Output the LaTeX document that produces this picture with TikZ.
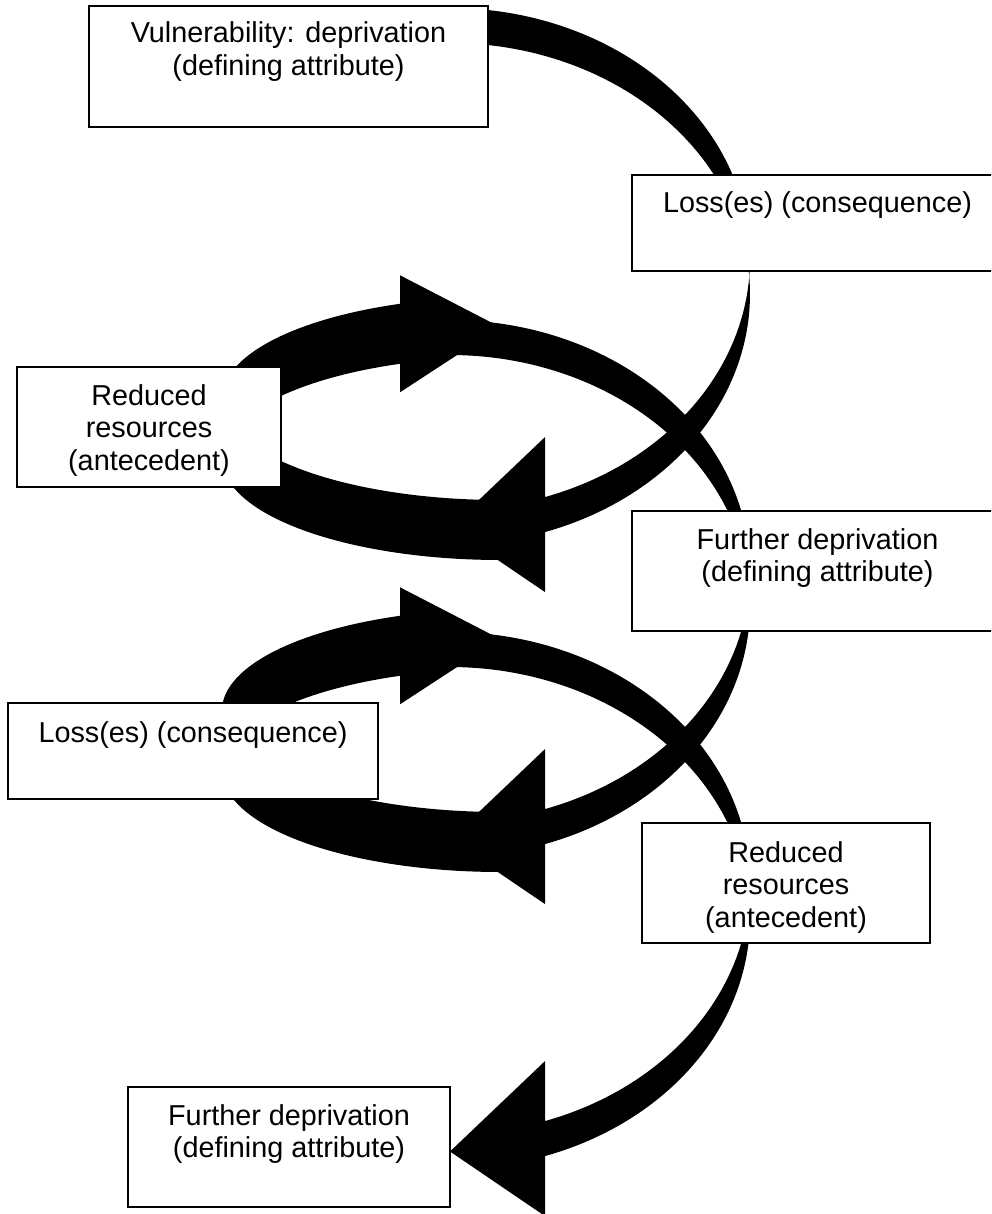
\documentclass[tikz,border=0pt]{standalone}
\usepackage{fontspec}
\setmainfont{Liberation Sans}
% curved arrow, body on the right, head at the bottom pointing left
% args: left x, top y, width, half-height of ellipse, band thickness, head width, head length
\newcommand{\cvLeftArrow}[7]{%
  \pgfmathsetmacro{\cvcU}{#2+#4}%
  \pgfmathsetmacro{\cvcL}{#2+#4+#5}%
  \pgfmathsetmacro{\cvtp}{asin(#5/(2*#4))}%
  \pgfmathsetmacro{\cvmtp}{-\cvtp}%
  \pgfmathsetmacro{\cvta}{acos(#7/#3)}%
  \pgfmathsetmacro{\cvxa}{#1+#7}%
  \pgfmathsetmacro{\cvyU}{\cvcU+#4*sin(\cvta)}%
  \pgfmathsetmacro{\cvyL}{\cvcL+#4*sin(\cvta)}%
  \pgfmathsetmacro{\cvdh}{(#6-#5)/2}%
  \pgfmathsetmacro{\cvyt}{#2+2*#4+#5/2}%
  \fill[arrowfill] plot[domain=-90:\cvtp, samples=70] ({#1+#3*cos(\x)},{\cvcU+#4*sin(\x)})
     -- plot[domain=\cvmtp:-90, samples=70] ({#1+#3*cos(\x)},{\cvcL+#4*sin(\x)}) -- cycle;
  \fill[arrowfill] plot[domain=\cvmtp:\cvta, samples=70] ({#1+#3*cos(\x)},{\cvcL+#4*sin(\x)})
     -- (\cvxa,{\cvyL+\cvdh}) -- (#1,\cvyt) -- (\cvxa,{\cvyU-\cvdh}) -- (\cvxa,\cvyU)
     -- plot[domain=\cvta:\cvtp, samples=70] ({#1+#3*cos(\x)},{\cvcU+#4*sin(\x)}) -- cycle;
}
% curved arrow, body on the left, head at the top pointing right
% args: right x, top y, width, half-height of ellipse, band thickness, head width, head length
\newcommand{\cvRightArrow}[7]{%
  \pgfmathsetmacro{\cvcT}{#2+(#6-#5)/2+#4}%
  \pgfmathsetmacro{\cvcO}{\cvcT+#5}%
  \pgfmathsetmacro{\cvtp}{asin(#5/(2*#4))}%
  \pgfmathsetmacro{\cvph}{acos(#7/#3)}%
  \pgfmathsetmacro{\cvxa}{#1-#7}%
  \pgfmathsetmacro{\cvyT}{\cvcT-#4*sin(\cvph)}%
  \pgfmathsetmacro{\cvyO}{\cvcO-#4*sin(\cvph)}%
  \pgfmathsetmacro{\cvdh}{(#6-#5)/2}%
  \pgfmathsetmacro{\cvyt}{#2+#6/2}%
  \pgfmathsetmacro{\cvaS}{180+\cvph}%
  \pgfmathsetmacro{\cvaP}{180-\cvtp}%
  \pgfmathsetmacro{\cvaQ}{180+\cvtp}%
  \fill[arrowfill] plot[domain=\cvaS:\cvaP, samples=70] ({#1+#3*cos(\x)},{\cvcT+#4*sin(\x)})
     -- plot[domain=\cvaQ:\cvaS, samples=70] ({#1+#3*cos(\x)},{\cvcO+#4*sin(\x)})
     -- (\cvxa,{\cvyO+\cvdh}) -- (#1,\cvyt) -- (\cvxa,{\cvyT-\cvdh}) -- cycle;
  \fill[arrowfill] plot[domain=\cvaQ:90, samples=70] ({#1+#3*cos(\x)},{\cvcO+#4*sin(\x)})
     -- plot[domain=90:\cvaP, samples=70] ({#1+#3*cos(\x)},{\cvcT+#4*sin(\x)}) -- cycle;
}
\tikzset{
  arrowfill/.style={fill=black},
  boxnode/.style={draw=black, line width=1.5pt, fill=white, rectangle, anchor=north west,
    inner sep=0pt, outer sep=0pt, align=center, font=\fontsize{28.8}{32.5}\selectfont},
}
\begin{document}
\begin{tikzpicture}[x=1pt, y=-1pt]
\useasboundingbox (0,0) rectangle (991,1214);
\clip (0,0) rectangle (991,1214);
\fill[white] (0,0) rectangle (991,1214);
% arrows
\cvLeftArrow{450}{8}{300}{251}{35}{155}{95}
\cvLeftArrow{450}{320}{300}{251}{35}{155}{95}
\cvLeftArrow{450}{632}{300}{251}{35}{155}{95}
\cvRightArrow{500}{268.5}{278}{101.5}{60}{117}{100}
\cvRightArrow{500}{580.5}{278}{101.5}{60}{117}{100}
% boxes
\node[boxnode, minimum width=399pt, minimum height=121pt] (b1) at (89,6)
  {\rule{0pt}{37pt}Vulnerability: deprivation\\(defining attribute)\rule[-51.5pt]{0pt}{0pt}};
\node[boxnode, minimum width=371pt, minimum height=96pt] (b2) at (632,175)
  {\rule{0pt}{38pt}Loss(es) (consequence)\rule[-58pt]{0pt}{0pt}};
\node[boxnode, minimum width=264pt, minimum height=120pt] (b3) at (17,367)
  {\rule{0pt}{38pt}Reduced\\resources\\(antecedent)\rule[-17pt]{0pt}{0pt}};
\node[boxnode, minimum width=371pt, minimum height=120pt] (b4) at (632,511)
  {\rule{0pt}{38pt}Further deprivation\\(defining attribute)\rule[-49.5pt]{0pt}{0pt}};
\node[boxnode, minimum width=370pt, minimum height=96pt] (b5) at (8,703)
  {\rule{0pt}{39pt}Loss(es) (consequence)\rule[-57pt]{0pt}{0pt}};
\node[boxnode, minimum width=288pt, minimum height=120pt] (b6) at (642,823)
  {\rule{0pt}{39pt}Reduced\\resources\\(antecedent)\rule[-16pt]{0pt}{0pt}};
\node[boxnode, minimum width=322pt, minimum height=120pt] (b7) at (128,1087)
  {\rule{0pt}{38pt}Further deprivation\\(defining attribute)\rule[-49.5pt]{0pt}{0pt}};
\end{tikzpicture}
\end{document}
